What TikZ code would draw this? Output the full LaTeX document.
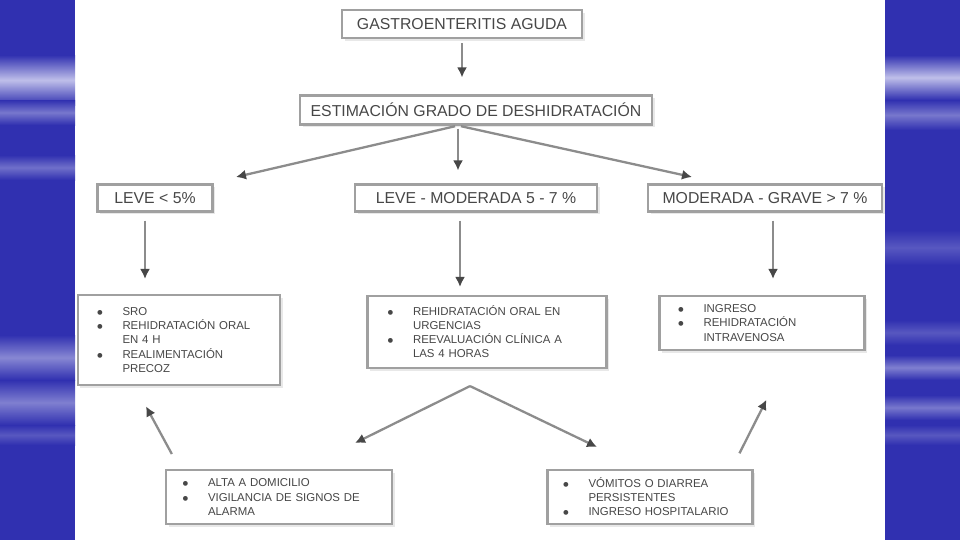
\documentclass[tikz,border=0pt]{standalone}
\usepackage{fontspec}
\setmainfont{Liberation Sans}
\usetikzlibrary{arrows.meta,positioning,calc,shadows}
\definecolor{slideblue}{HTML}{3030B0}
\definecolor{streak}{HTML}{CFCFF0}
\definecolor{boxline}{HTML}{A0A0A0}
\definecolor{inkgray}{HTML}{474747}
\definecolor{linegray}{HTML}{8C8C8C}

% one bullet line with hanging indent
\newcommand{\itm}[1]{\hyphenpenalty=10000\hangindent=5.2mm\hangafter=1\noindent\makebox[5.2mm][l]{$\bullet$}#1\par}

\begin{document}
\begin{tikzpicture}[x=0.2mm, y=-0.2mm,
  hdr/.style={draw=boxline, line width=1.2pt, fill=white, text=inkgray,
    drop shadow={shadow xshift=0.5mm, shadow yshift=-0.5mm, fill=gray!35},
    font=\fontsize{9}{10}\selectfont, inner sep=0pt, minimum height=5.6mm},
  lst/.style={hdr, font=\fontsize{6.5}{8}\selectfont, align=left},
  conn/.style={draw=linegray, line width=1.3pt,
    -{Latex[length=2mm, width=2mm, color=inkgray]}}]
  \useasboundingbox (0,0) rectangle (960,540);
  \fill[white] (0,0) rectangle (960,540);
  % blue side bands
  \fill[slideblue] (0,0) rectangle (75,540);
  \fill[slideblue] (885,0) rectangle (960,540);
  \foreach \ya/\yb/\m in {55/105/90, 100/125/45, 155/180/40, 335/380/55, 380/425/50, 425/445/25}
    \shade[top color=slideblue, bottom color=slideblue, middle color=streak!\m!slideblue] (0,\ya) rectangle (75,\yb);
  \foreach \ya/\yb/\m in {55/100/90, 100/130/45, 230/265/25, 320/345/25, 355/380/50, 395/420/45, 425/445/25}
    \shade[top color=slideblue, bottom color=slideblue, middle color=streak!\m!slideblue] (885,\ya) rectangle (960,\yb);

  % header boxes
  \node[hdr, minimum width=48mm] (top) at (462,24) {GASTROENTERITIS AGUDA};
  \node[hdr, minimum width=70.4mm, minimum height=5.8mm] (est) at (476,110) {ESTIMACIÓN GRADO DE DESHIDRATACIÓN};
  \node[hdr, minimum width=23mm, minimum height=5.4mm] (l2) at (155,198) {LEVE < 5\%};
  \node[hdr, minimum width=48.4mm, minimum height=5.4mm] (m2) at (476,198) {LEVE - MODERADA 5 - 7 \%};
  \node[hdr, minimum width=46.8mm, minimum height=5.4mm] (r2) at (765,198) {MODERADA - GRAVE > 7 \%};

  % treatment boxes
  \node[lst, minimum width=40.4mm, minimum height=18mm, text width=33mm] (box4) at (179,340)
    {\itm{SRO}\itm{REHIDRATACIÓN ORAL EN 4 H}\itm{REALIMENTACIÓN PRECOZ}};
  \node[lst, minimum width=47.8mm, minimum height=14.4mm, text width=40mm] (box5) at (487,332)
    {\itm{REHIDRATACIÓN ORAL EN URGENCIAS}\itm{REEVALUACIÓN CLÍNICA A LAS 4 HORAS}};
  \node[lst, minimum width=41mm, minimum height=10.8mm, text width=33.8mm] (box6) at (762,323)
    {\itm{INGRESO}\itm{REHIDRATACIÓN INTRAVENOSA}};
  \node[lst, minimum width=45.2mm, minimum height=10.8mm, text width=38.8mm] (box7) at (279,497)
    {\itm{ALTA A DOMICILIO}\itm{VIGILANCIA DE SIGNOS DE ALARMA}};
  \node[lst, minimum width=41mm, minimum height=10.8mm, text width=35mm] (box8) at (650,497)
    {\itm{VÓMITOS O DIARREA PERSISTENTES}\itm{INGRESO HOSPITALARIO}};

  % free ends of the connectors
  \coordinate (fork) at ([xshift=-3.6mm]est.south);
  \coordinate (tipL) at (236,177);
  \coordinate (tipR) at (692,177);
  \coordinate (split) at ([xshift=-3.4mm, yshift=-3.4mm]box5.south);
  \coordinate (tip7) at (355,443);
  \coordinate (tip8) at (597,447);

  % connectors
  \draw[conn, shorten <=0.8mm, shorten >=3.4mm] (top.south) -- (top.south |- est.north);
  \draw[conn, shorten <=0.6mm] (fork) -- (tipL);
  \draw[conn, shorten <=0.6mm, shorten >=2.6mm] (fork) -- (fork |- m2.north);
  \draw[conn, shorten <=0.6mm] (fork) -- (tipR);
  \draw[conn, shorten <=1.6mm, shorten >=3mm] ([xshift=-2mm]l2.south) -- ([xshift=-2mm]l2.south |- box4.north);
  \draw[conn, shorten <=1.6mm, shorten >=1.6mm] ([xshift=-3.2mm]m2.south) -- ([xshift=-3.2mm]m2.south |- box5.north);
  \draw[conn, shorten <=1.6mm, shorten >=3.2mm] ([xshift=1.6mm]r2.south) -- ([xshift=1.6mm]r2.south |- box6.north);
  \draw[conn] (split) -- (tip7);
  \draw[conn] (split) -- (tip8);
  \draw[conn, shorten <=3.4mm, shorten >=4.6mm] ([xshift=3mm]box7.north west) -- ([xshift=-8.8mm]box4.south);
  \draw[conn, shorten <=3.5mm, shorten >=10.9mm] ([xshift=-4.4mm]box8.north east) -- ([xshift=5.8mm]box6.south);
\end{tikzpicture}
\end{document}
